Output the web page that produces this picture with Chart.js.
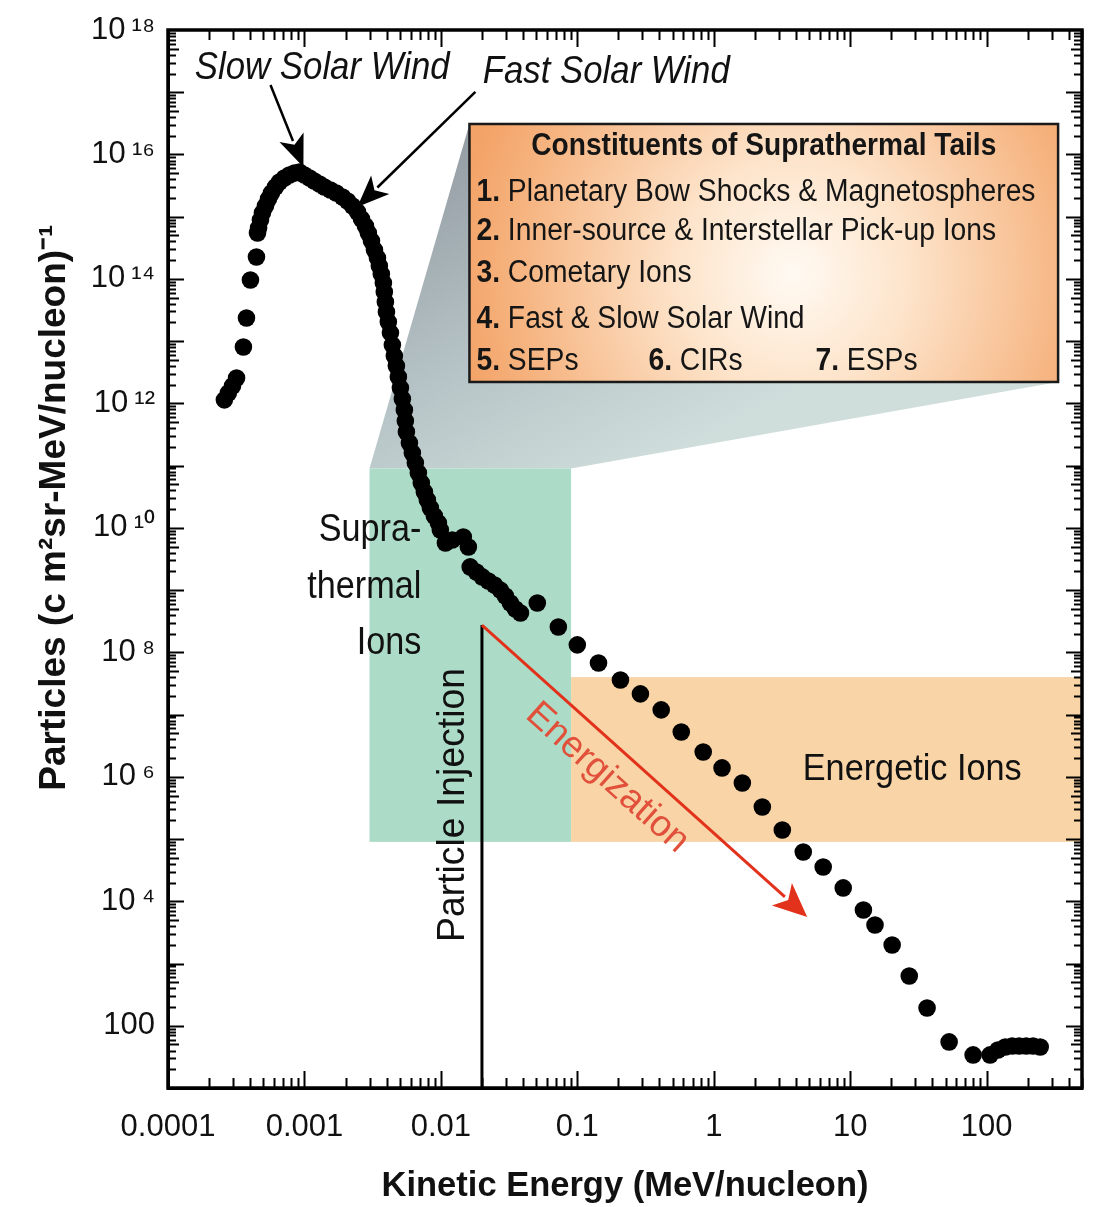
<!DOCTYPE html>
<html><head><meta charset="utf-8">
<script src="https://cdn.jsdelivr.net/npm/chart.js@4/dist/chart.umd.min.js"></script>
<style>html,body{margin:0;padding:0;background:#fff}#wrap{width:1094px;height:1207px}</style>
</head><body><div id="wrap"><canvas id="c" width="1094" height="1207" style="width:1094px;height:1207px"></canvas></div>
<script>
// ---- data (kinetic energy in MeV/nucleon, particles in (cm2 sr MeV/nucleon)^-1) ----
const energy = [2.59e-4,2.77e-4,2.97e-4,3.18e-4,3.57e-4,3.76e-4,4.02e-4,4.45e-4,4.53e-4,4.61e-4,
  4.76e-4,4.92e-4,5.18e-4,5.45e-4,5.73e-4,6.13e-4,6.56e-4,7.13e-4,7.76e-4,8.45e-4,
  9.19e-4,1.00e-3,1.09e-3,1.18e-3,1.29e-3,1.40e-3,1.55e-3,1.71e-3,1.90e-3,2.07e-3,
  2.25e-3,2.45e-3,2.62e-3,2.80e-3,2.94e-3,3.10e-3,3.26e-3,3.43e-3,3.54e-3,3.66e-3,
  3.79e-3,3.85e-3,3.92e-3,3.99e-3,4.12e-3,4.27e-3,4.41e-3,4.56e-3,4.72e-3,4.88e-3,
  5.05e-3,5.22e-3,5.40e-3,5.49e-3,5.59e-3,5.88e-3,6.18e-3,6.50e-3,6.84e-3,7.19e-3,
  7.57e-3,7.96e-3,8.38e-3,8.96e-3,9.59e-3,9.91e-3,1.08e-2,1.21e-2,1.46e-2,1.59e-2,
  1.64e-2,1.82e-2,2.01e-2,2.23e-2,2.47e-2,2.73e-2,2.97e-2,3.23e-2,3.52e-2,3.83e-2,
  5.09e-2,7.26e-2,0.100,0.143,0.207,0.290,0.412,0.578,0.837,1.15,
  1.62,2.27,3.18,4.53,6.34,8.89,12.5,15.2,20.3,27.1,
  36.6,53.1,79.6,106,121,137,154,173,195,219,247];
const particles = [1.14e12,1.47e12,1.91e12,2.56e12,8.07e12,2.36e13,9.63e13,2.25e14,5.47e14,6.59e14,
  8.86e14,1.15e15,1.49e15,1.93e15,2.41e15,3.00e15,3.61e15,4.19e15,4.68e15,5.04e15,
  5.23e15,4.68e15,4.19e15,3.75e15,3.36e15,3.00e15,2.69e15,2.41e15,2.07e15,1.79e15,
  1.49e15,1.19e15,9.19e14,7.10e14,5.47e14,4.07e14,2.92e14,2.17e14,1.61e14,1.20e14,
  8.61e13,6.17e13,4.27e13,2.94e13,2.03e13,1.36e13,8.69e12,5.78e12,3.99e12,2.66e12,
  1.77e12,1.18e12,7.85e11,5.22e11,3.48e11,2.31e11,1.60e11,1.10e11,7.62e10,5.27e10,
  3.78e10,2.81e10,2.09e10,1.55e10,1.20e10,9.25e9,5.73e9,6.40e9,7.14e9,4.93e9,
  2.36e9,1.96e9,1.63e9,1.40e9,1.21e9,1.00e9,8.05e8,6.22e8,4.98e8,4.30e8,
  6.22e8,2.56e8,1.32e8,6.76e7,3.60e7,2.15e7,1.19e7,5.26e6,2.51e6,1.39e6,
  7.97e5,3.28e5,1.40e5,6.21e4,3.56e4,1.64e4,7.26e3,4.17e3,1.99e3,632,
  193,55,34,34,40.9,45.7,47.4,47.4,47.4,47.4,45.7];
const xTickValues = [1e-4,1e-3,1e-2,1e-1,1,10,100];
const xTickLabels = ['0.0001','0.001','0.01','0.1','1','10','100'];
const yTickValues = [1e2,1e4,1e6,1e8,1e10,1e12,1e14,1e16,1e18];
const yTickLabels = ['100','10\u2009\u2074','10\u2009\u2076','10\u2009\u2078','10\u2009\u00b9\u2070','10\u2009\u00b9\u00b2','10\u2009\u00b9\u2074','10\u2009\u00b9\u2076','10\u2009\u00b9\u2078'];
const xRange = [1e-4, 500];
const yRange = [10, 1e18];

// ---- annotation anchors (data coordinates) ----
const regions = {
  green: {x0:0.003, x1:0.09, y0:9e4, y1:9e10},
  orange:{x0:0.09, x1:500, y0:9e4, y1:4e7},
  box:   {x0:1.62e-2, x1:334, y0:2.21e12, y1:3.09e16}
};
const injection = {x:0.02, yTop:2.75e8};
const energArrow = {x0:0.02, y0:2.75e8, x1:4.84, y1:5.6e3};
const slowArrow = {x0:5.64e-4, y0:1.31e17, x1:9.83e-4, y1:6.3e15};
const fastArrow = {x0:1.79e-2, y0:1.01e17, x1:2.44e-3, y1:1.43e15};

const BASE = '"Liberation Sans", Arial, Helvetica, sans-serif';
const tickFont = {family:BASE, size:31};
const xTitleFont = {family:BASE, size:34.5, weight:'bold', lineHeight:1};
const yTitleFont = {family:BASE, size:37, weight:'bold', lineHeight:1};

// shift the y title upward (its text is centred a little above the plot middle)
const mctx = document.createElement('canvas').getContext('2d');
mctx.font = 'bold '+yTitleFont.size+'px '+yTitleFont.family;
const spaceW = mctx.measureText('          ').width/10;
const yTitlePad = ' '.repeat(Math.round(104/spaceW));

function fitText(ctx, text, x, y, font, width, align, color, angle){
  ctx.save();
  ctx.font = font;
  const w = ctx.measureText(text).width;
  const sx = width ? width/w : 1;
  ctx.translate(x, y);
  if (angle) ctx.rotate(angle);
  ctx.scale(sx, 1);
  ctx.textAlign = align || 'center';
  ctx.textBaseline = 'middle';
  ctx.fillStyle = color || '#111';
  ctx.fillText(text, 0, 0);
  ctx.restore();
}
function arrow(ctx, x1, y1, x2, y2, color, lw, hl, hw){
  const ang = Math.atan2(y2-y1, x2-x1);
  const bx = x2 - hl*Math.cos(ang), by = y2 - hl*Math.sin(ang);
  ctx.save();
  ctx.strokeStyle = color; ctx.fillStyle = color; ctx.lineWidth = lw;
  ctx.beginPath(); ctx.moveTo(x1, y1); ctx.lineTo(bx + 4*Math.cos(ang), by + 4*Math.sin(ang)); ctx.stroke();
  ctx.beginPath();
  ctx.moveTo(x2, y2);
  ctx.lineTo(bx + hw*Math.sin(ang), by - hw*Math.cos(ang));
  ctx.lineTo(bx + 0.25*hl*Math.cos(ang), by + 0.25*hl*Math.sin(ang));
  ctx.lineTo(bx - hw*Math.sin(ang), by + hw*Math.cos(ang));
  ctx.closePath(); ctx.fill();
  ctx.restore();
}

const annot = {
  id: 'annot',
  beforeDatasetsDraw(chart){
    const {ctx, chartArea:a} = chart;
    const X = v => chart.scales.x.getPixelForValue(v), Y = v => chart.scales.y.getPixelForValue(v);
    ctx.save();
    ctx.beginPath(); ctx.rect(a.left, a.top, a.right-a.left, a.bottom-a.top); ctx.clip();
    const G = regions.green, O = regions.orange, B = regions.box;
    const gx0 = X(G.x0), gx1 = X(G.x1), gyT = Y(G.y1), gyB = Y(G.y0);
    const bx0 = X(B.x0), bx1 = X(B.x1), byT = Y(B.y1), byB = Y(B.y0);
    // grey projection wedge
    const gg = ctx.createLinearGradient(bx0, byT, gx1 + 80, gyT);
    gg.addColorStop(0, '#939ca3');
    gg.addColorStop(0.55, '#b7c4c7');
    gg.addColorStop(1, '#cfdedb');
    ctx.fillStyle = gg;
    ctx.beginPath();
    ctx.moveTo(gx0, gyT); ctx.lineTo(bx0, byT); ctx.lineTo(bx1, byT); ctx.lineTo(bx1, byB); ctx.lineTo(gx1, gyT);
    ctx.closePath(); ctx.fill();
    // green suprathermal box
    ctx.fillStyle = '#acdcc7';
    ctx.fillRect(gx0, gyT, gx1-gx0, gyB-gyT);
    // orange energetic band
    ctx.fillStyle = '#f8d4a6';
    ctx.fillRect(X(O.x0), Y(O.y1), X(O.x1)-X(O.x0), Y(O.y0)-Y(O.y1));
    // legend box
    const cx = bx0 + 0.55*(bx1-bx0), cy = byT + 0.58*(byB-byT);
    const rg = ctx.createRadialGradient(cx, cy, 0, cx, cy, 340);
    rg.addColorStop(0, '#fffaf3');
    rg.addColorStop(0.35, '#fde3c9');
    rg.addColorStop(0.8, '#f6b582');
    rg.addColorStop(1, '#f3a367');
    ctx.fillStyle = rg;
    ctx.fillRect(bx0, byT, bx1-bx0, byB-byT);
    ctx.lineWidth = 2.5; ctx.strokeStyle = '#1a1a1a';
    ctx.strokeRect(bx0, byT, bx1-bx0, byB-byT);
    // legend text
    fitText(ctx, 'Constituents of Suprathermal Tails', (bx0+bx1)/2, byT+22, 'bold 31px '+BASE, 465, 'center', '#151515');
    const size = 31;
    ctx.font = 'bold '+size+'px '+BASE; const n1 = ctx.measureText('1. ').width;
    ctx.font = size+'px '+BASE; const r1 = ctx.measureText('Planetary Bow Shocks & Magnetospheres').width;
    const sx = 559/(n1+r1);
    const item = (num, rest, dx, dy) => {
      ctx.save(); ctx.translate(bx0+dx, byT+dy); ctx.scale(sx, 1);
      ctx.textAlign = 'left'; ctx.textBaseline = 'middle'; ctx.fillStyle = '#151515';
      ctx.font = 'bold '+size+'px '+BASE; ctx.fillText(num, 0, 0);
      const w = ctx.measureText(num).width;
      ctx.font = size+'px '+BASE; ctx.fillText(rest, w, 0);
      ctx.restore();
    };
    item('1. ', 'Planetary Bow Shocks & Magnetospheres', 7, 68);
    item('2. ', 'Inner-source & Interstellar Pick-up Ions', 7, 107);
    item('3. ', 'Cometary Ions', 7, 149);
    item('4. ', 'Fast & Slow Solar Wind', 7, 195);
    item('5. ', 'SEPs', 7, 237);
    item('6. ', 'CIRs', 179, 237);
    item('7. ', 'ESPs', 346, 237);
    ctx.restore();
  },
  afterDatasetsDraw(chart){
    const {ctx, chartArea:a} = chart;
    const X = v => chart.scales.x.getPixelForValue(v), Y = v => chart.scales.y.getPixelForValue(v);
    // particle injection line
    ctx.save();
    ctx.strokeStyle = '#000'; ctx.lineWidth = 3;
    ctx.beginPath(); ctx.moveTo(X(injection.x), Y(injection.yTop)); ctx.lineTo(X(injection.x), a.bottom); ctx.stroke();
    ctx.restore();
    // energization arrow
    const ex0 = X(energArrow.x0), ey0 = Y(energArrow.y0), ex1 = X(energArrow.x1), ey1 = Y(energArrow.y1);
    arrow(ctx, ex0, ey0, ex1, ey1, '#e2321c', 3, 34, 15);
    const eang = Math.atan2(ey1-ey0, ex1-ex0);
    fitText(ctx, 'Energization', X(0.166), Y(9.6e5), '37px '+BASE, 205, 'center', '#e0503a', eang);
    // solar wind arrows
    arrow(ctx, X(slowArrow.x0), Y(slowArrow.y0), X(slowArrow.x1), Y(slowArrow.y1), '#000', 2.5, 32, 13);
    arrow(ctx, X(fastArrow.x0), Y(fastArrow.y0), X(fastArrow.x1), Y(fastArrow.y1), '#000', 2.5, 32, 13);
    // labels
    fitText(ctx, 'Slow Solar Wind', X(1.35e-3), Y(2.45e17), 'italic 38px '+BASE, 255, 'center', '#111');
    fitText(ctx, 'Fast Solar Wind', X(0.163), Y(2.11e17), 'italic 38px '+BASE, 247, 'center', '#111');
    ctx.save(); ctx.font = '39px '+BASE; const sxs = 114/ctx.measureText('thermal').width; ctx.restore();
    const rx = X(7.19e-3);
    [['Supra-', 9.25e9], ['thermal', 1.12e9], ['Ions', 1.42e8]].forEach(([t, v]) => {
      ctx.save(); ctx.font = '39px '+BASE; const w = ctx.measureText(t).width; ctx.restore();
      fitText(ctx, t, rx, Y(v), '39px '+BASE, w*sxs, 'right', '#111');
    });
    fitText(ctx, 'Particle Injection', X(1.24e-2), Y(3.53e5), '38px '+BASE, 274, 'center', '#111', -Math.PI/2);
    fitText(ctx, 'Energetic Ions', X(28.5), Y(1.29e6), '37px '+BASE, 219, 'center', '#111');
  },
  afterDraw(chart){
    const {ctx, chartArea:a} = chart;
    const xs = chart.scales.x, ys = chart.scales.y;
    ctx.save();
    ctx.strokeStyle = '#000'; ctx.lineWidth = 2;
    ctx.beginPath();
    for (let e = -4; e <= 2; e++) for (let m = 1; m <= 9; m++) {
      const v = m*Math.pow(10, e); if (v < xRange[0]*0.999 || v > xRange[1]*1.001) continue;
      const p = Math.round(xs.getPixelForValue(v)) + 0.5, L = m === 1 ? 17 : 10;
      ctx.moveTo(p, a.bottom); ctx.lineTo(p, a.bottom - L);
      ctx.moveTo(p, a.top); ctx.lineTo(p, a.top + L);
    }
    for (let e = 1; e <= 17; e++) for (let m = 1; m <= 9; m++) {
      const v = m*Math.pow(10, e); if (v > yRange[1]*1.001) continue;
      const p = Math.round(ys.getPixelForValue(v)) + 0.5, L = m === 1 ? 16 : (m === 5 ? 11 : 8);
      ctx.moveTo(a.left, p); ctx.lineTo(a.left + L, p);
      ctx.moveTo(a.right, p); ctx.lineTo(a.right - L, p);
    }
    ctx.stroke();
    ctx.lineWidth = 3.5;
    ctx.strokeRect(a.left, a.top, a.right-a.left, a.bottom-a.top);
    ctx.restore();
  }
};

const chart = new Chart(document.getElementById('c'), {
  type: 'scatter',
  data: { datasets: [{
    data: energy.map((e, i) => ({x: e, y: particles[i]})),
    backgroundColor: '#000', borderWidth: 0, pointRadius: 8.8, pointHoverRadius: 8.8
  }]},
  options: {
    responsive: false, animation: false, devicePixelRatio: 1,
    layout: {padding: {left: 0, right: 12, top: 30, bottom: 0}},
    plugins: {legend: {display: false}, tooltip: {enabled: false}},
    scales: {
      x: {
        type: 'logarithmic', position: 'bottom', min: xRange[0], max: xRange[1],
        afterBuildTicks: s => { s.ticks = xTickValues.map(v => ({value: v, major: true})); },
        afterFit: s => { s.height = 119; },
        grid: {display: false}, border: {display: true, color: '#000', width: 3},
        ticks: {autoSkip: false, maxRotation: 0, minRotation: 0, padding: 13, color: '#111', font: tickFont,
                callback: (v, i) => xTickLabels[i]},
        title: {display: true, text: 'Kinetic Energy (MeV/nucleon)', color: '#111', font: xTitleFont, padding: {top: 0, bottom: 3}}
      },
      y: {
        type: 'logarithmic', position: 'left', min: yRange[0], max: yRange[1],
        afterBuildTicks: s => { s.ticks = yTickValues.map(v => ({value: v, major: true})); },
        afterFit: s => { s.width = 168; },
        grid: {display: false}, border: {display: true, color: '#000', width: 3},
        ticks: {autoSkip: false, padding: 5, color: '#111', font: tickFont,
                callback: (v, i) => yTickLabels[i]},
        title: {display: true, text: yTitlePad + 'Particles (c m\u00b2sr-MeV/nucleon)\u207b\u00b9', color: '#111', font: yTitleFont,
                padding: {top: 55 - yTitleFont.size/2, bottom: 0}}
      }
    }
  },
  plugins: [annot]
});
</script>
</body></html>
